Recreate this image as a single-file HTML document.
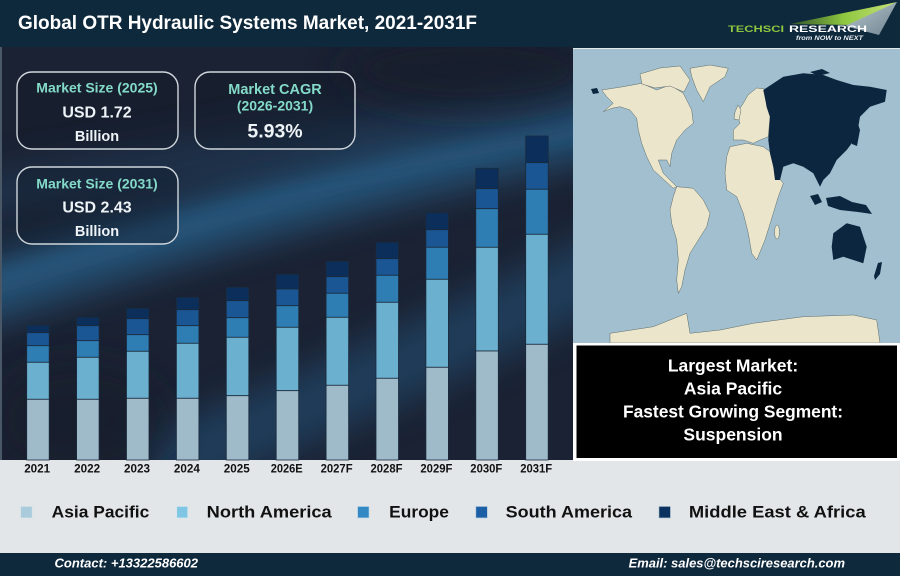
<!DOCTYPE html>
<html><head><meta charset="utf-8"><style>
html,body{margin:0;padding:0;background:#e2e6e8;}
svg{display:block;}
text{font-family:"Liberation Sans",Arial,sans-serif;}
</style></head><body>
<svg width="900" height="576" viewBox="0 0 900 576" xmlns="http://www.w3.org/2000/svg">
<defs>
<filter id="bl" x="-50%" y="-50%" width="200%" height="200%"><feGaussianBlur stdDeviation="18"/></filter>
<filter id="bl2" x="-50%" y="-50%" width="200%" height="200%"><feGaussianBlur stdDeviation="9"/></filter>
<linearGradient id="sw" x1="0" y1="0" x2="1" y2="0">
<stop offset="0" stop-color="#2e4f2a"/><stop offset="0.5" stop-color="#8dc63f"/><stop offset="1" stop-color="#c8e27a"/></linearGradient>
<linearGradient id="sw2" x1="0" y1="0" x2="1" y2="1">
<stop offset="0" stop-color="#b8c7cf"/><stop offset="1" stop-color="#6f8490"/></linearGradient>
<clipPath id="cc"><rect x="0" y="47" width="573" height="413"/></clipPath>
</defs>
<rect x="0" y="0" width="900" height="576" fill="#e2e6e8"/>
<!-- header -->
<rect x="0" y="0" width="900" height="48" fill="#0f293c"/>
<text x="18" y="29" font-size="19" font-weight="bold" fill="#ffffff" textLength="459" lengthAdjust="spacingAndGlyphs">Global OTR Hydraulic Systems Market, 2021-2031F</text>
<!-- logo -->
<polygon points="790,24 897,2 852,25" fill="url(#sw)"/>
<polygon points="845,26 897,2 879,35" fill="url(#sw2)"/>
<text x="728" y="32" font-size="9.5" font-weight="bold" fill="#8dc63f" textLength="56" lengthAdjust="spacingAndGlyphs">TECHSCI</text>
<text x="789" y="32" font-size="9.5" font-weight="bold" fill="#ffffff" textLength="78" lengthAdjust="spacingAndGlyphs">RESEARCH</text>
<text x="796" y="40" font-size="6.5" font-style="italic" font-weight="bold" fill="#e8eef2" textLength="67" lengthAdjust="spacingAndGlyphs">from NOW to NEXT</text>

<!-- chart background -->
<g clip-path="url(#cc)">
<rect x="0" y="47" width="573" height="413" fill="#1b2233"/>
<path d="M-40,300 C120,250 300,190 620,120" stroke="#28587f" stroke-width="60" fill="none" opacity="0.85" filter="url(#bl)"/>
<path d="M-40,290 C120,245 300,185 620,118" stroke="#2e6690" stroke-width="14" fill="none" opacity="0.45" filter="url(#bl2)"/>
<path d="M-40,200 C150,170 330,140 620,90" stroke="#203f5e" stroke-width="40" fill="none" opacity="0.6" filter="url(#bl)"/>
<path d="M150,470 C280,420 420,360 620,260" stroke="#234c6e" stroke-width="70" fill="none" opacity="0.65" filter="url(#bl)"/>
<ellipse cx="470" cy="70" rx="130" ry="40" fill="#161c2a" opacity="0.7" filter="url(#bl)"/>
<ellipse cx="80" cy="420" rx="90" ry="60" fill="#161c2a" opacity="0.6" filter="url(#bl)"/>
<rect x="0" y="47" width="2" height="413" fill="#4a5766"/>
</g>

<!-- KPI boxes -->
<g stroke="#cfd6dc" stroke-width="1.4" fill="#101a29" fill-opacity="0.35">
<rect x="17" y="72" width="161" height="77" rx="15"/>
<rect x="195" y="72" width="160" height="77" rx="15"/>
<rect x="17" y="167" width="161" height="77" rx="15"/>
</g>
<g font-weight="bold" text-anchor="middle">
<text x="97" y="92.5" font-size="14" fill="#84dac9">Market Size (2025)</text>
<text x="97" y="117.5" font-size="16" fill="#eef3f7">USD 1.72</text>
<text x="97" y="141" font-size="14.5" fill="#eef3f7">Billion</text>
<text x="275" y="94" font-size="14.5" fill="#84dac9">Market CAGR</text>
<text x="275" y="110.5" font-size="14" fill="#84dac9">(2026-2031)</text>
<text x="275" y="137.5" font-size="19.5" fill="#eef3f7">5.93%</text>
<text x="97" y="188.5" font-size="14" fill="#84dac9">Market Size (2031)</text>
<text x="97" y="212.5" font-size="16" fill="#eef3f7">USD 2.43</text>
<text x="97" y="236" font-size="14.5" fill="#eef3f7">Billion</text>
</g>

<!-- bars -->
<g stroke="#1a2b3d" stroke-width="0.8">
<g transform="translate(26.7,0)">
<rect y="325.3" width="22.5" height="7.4" fill="#0b2e5b"/><rect y="332.7" width="22.5" height="13" fill="#1b5694"/><rect y="345.7" width="22.5" height="16.6" fill="#2e7db3"/><rect y="362.3" width="22.5" height="37" fill="#6cb0cf"/><rect y="399.3" width="22.5" height="60.7" fill="#9fbac8"/></g>
<g transform="translate(76.6,0)">
<rect y="317.3" width="22.5" height="8.4" fill="#0b2e5b"/><rect y="325.7" width="22.5" height="15" fill="#1b5694"/><rect y="340.7" width="22.5" height="16.6" fill="#2e7db3"/><rect y="357.3" width="22.5" height="42" fill="#6cb0cf"/><rect y="399.3" width="22.5" height="60.7" fill="#9fbac8"/></g>
<g transform="translate(126.5,0)">
<rect y="308.3" width="22.5" height="10.4" fill="#0b2e5b"/><rect y="318.7" width="22.5" height="16" fill="#1b5694"/><rect y="334.7" width="22.5" height="16.6" fill="#2e7db3"/><rect y="351.3" width="22.5" height="47" fill="#6cb0cf"/><rect y="398.3" width="22.5" height="61.7" fill="#9fbac8"/></g>
<g transform="translate(176.4,0)">
<rect y="297.3" width="22.5" height="12.4" fill="#0b2e5b"/><rect y="309.7" width="22.5" height="16" fill="#1b5694"/><rect y="325.7" width="22.5" height="17.6" fill="#2e7db3"/><rect y="343.3" width="22.5" height="55" fill="#6cb0cf"/><rect y="398.3" width="22.5" height="61.7" fill="#9fbac8"/></g>
<g transform="translate(226.3,0)">
<rect y="287.3" width="22.5" height="13.4" fill="#0b2e5b"/><rect y="300.7" width="22.5" height="17" fill="#1b5694"/><rect y="317.7" width="22.5" height="19.6" fill="#2e7db3"/><rect y="337.3" width="22.5" height="58.4" fill="#6cb0cf"/><rect y="395.7" width="22.5" height="64.3" fill="#9fbac8"/></g>
<g transform="translate(276.2,0)">
<rect y="274.3" width="22.5" height="14.7" fill="#0b2e5b"/><rect y="289" width="22.5" height="16.7" fill="#1b5694"/><rect y="305.7" width="22.5" height="21.6" fill="#2e7db3"/><rect y="327.3" width="22.5" height="63.4" fill="#6cb0cf"/><rect y="390.7" width="22.5" height="69.3" fill="#9fbac8"/></g>
<g transform="translate(326.1,0)">
<rect y="261.3" width="22.5" height="15.4" fill="#0b2e5b"/><rect y="276.7" width="22.5" height="16.6" fill="#1b5694"/><rect y="293.3" width="22.5" height="24" fill="#2e7db3"/><rect y="317.3" width="22.5" height="68" fill="#6cb0cf"/><rect y="385.3" width="22.5" height="74.7" fill="#9fbac8"/></g>
<g transform="translate(376,0)">
<rect y="242.3" width="22.5" height="16.4" fill="#0b2e5b"/><rect y="258.7" width="22.5" height="16.6" fill="#1b5694"/><rect y="275.3" width="22.5" height="27" fill="#2e7db3"/><rect y="302.3" width="22.5" height="76" fill="#6cb0cf"/><rect y="378.3" width="22.5" height="81.7" fill="#9fbac8"/></g>
<g transform="translate(425.9,0)">
<rect y="212.7" width="22.5" height="17" fill="#0b2e5b"/><rect y="229.7" width="22.5" height="17.6" fill="#1b5694"/><rect y="247.3" width="22.5" height="32" fill="#2e7db3"/><rect y="279.3" width="22.5" height="88" fill="#6cb0cf"/><rect y="367.3" width="22.5" height="92.7" fill="#9fbac8"/></g>
<g transform="translate(475.8,0)">
<rect y="168.3" width="22.5" height="20.4" fill="#0b2e5b"/><rect y="188.7" width="22.5" height="20" fill="#1b5694"/><rect y="208.7" width="22.5" height="38.6" fill="#2e7db3"/><rect y="247.3" width="22.5" height="103.7" fill="#6cb0cf"/><rect y="351" width="22.5" height="109" fill="#9fbac8"/></g>
<g transform="translate(525.7,0)">
<rect y="136" width="22.5" height="26.7" fill="#0b2e5b"/><rect y="162.7" width="22.5" height="26.6" fill="#1b5694"/><rect y="189.3" width="22.5" height="45" fill="#2e7db3"/><rect y="234.3" width="22.5" height="110" fill="#6cb0cf"/><rect y="344.3" width="22.5" height="115.7" fill="#9fbac8"/></g>
</g>

<!-- x labels -->
<g font-size="12" font-weight="bold" fill="#111" text-anchor="middle">
<text x="37.2" y="472.5" textLength="26" lengthAdjust="spacingAndGlyphs">2021</text>
<text x="87.1" y="472.5" textLength="26" lengthAdjust="spacingAndGlyphs">2022</text>
<text x="137" y="472.5" textLength="26" lengthAdjust="spacingAndGlyphs">2023</text>
<text x="186.9" y="472.5" textLength="26" lengthAdjust="spacingAndGlyphs">2024</text>
<text x="236.8" y="472.5" textLength="26" lengthAdjust="spacingAndGlyphs">2025</text>
<text x="286.7" y="472.5" textLength="32" lengthAdjust="spacingAndGlyphs">2026E</text>
<text x="336.6" y="472.5" textLength="32" lengthAdjust="spacingAndGlyphs">2027F</text>
<text x="386.5" y="472.5" textLength="32" lengthAdjust="spacingAndGlyphs">2028F</text>
<text x="436.4" y="472.5" textLength="32" lengthAdjust="spacingAndGlyphs">2029F</text>
<text x="486.3" y="472.5" textLength="32" lengthAdjust="spacingAndGlyphs">2030F</text>
<text x="536.2" y="472.5" textLength="32" lengthAdjust="spacingAndGlyphs">2031F</text>
</g>

<!-- map panel -->
<rect x="573" y="49" width="327" height="294" fill="#a1bfce"/>
<g fill="#ebe5cb" stroke="#5d6b6a" stroke-width="0.5">
<polygon points="601.7,90 623.3,86.7 641.7,83.3 656.7,90 670,85 683.3,93.3 691.7,110 693.3,123.3 685,130 676.7,140 671.7,153.3 670,166.7 666.7,160 658.3,160 663.3,173.3 676.7,186.7 673.3,188.3 653.3,170 646.7,156.7 641.7,143.3 638.3,130 636.7,118.3 630,110 620,106.7 611.7,108.3 603.3,111.7 613.3,103.3 606.7,96.7"/>
<polygon points="640,74 660,68 680,66 690,80 684,92 670,86 655,88 642,84"/>
<polygon points="690,68.3 710,65 728.3,68.3 725,76.7 710,86.7 703.3,101.7 696.7,90 691.7,76.7"/>
<polygon points="676.7,186.7 693.3,188.3 703.3,200 710,213.3 706.7,226.7 698.3,240 690,253.3 685,270 681.7,286.7 678.3,293.3 676.7,280 678.3,260 676.7,240 671.7,223.3 670,210 673.3,196.7"/>
<polygon points="733.3,140 733.3,130 740,123.3 736.7,113.3 743.3,103.3 748,95 756.7,88 765,89 766.7,106.7 770,116.7 768.3,136.7 760,140 753.3,143.3 743.3,140"/>
<polygon points="735,112 738,105 741,110 739,120 734,119"/>
<polygon points="730,146.7 746.7,143.3 763.3,146.7 770,151.7 775,173.3 783.3,183.3 778.3,196.7 773.3,213.3 765,240 756.7,260 751.7,253.3 748.3,233.3 743.3,213.3 736.7,196.7 726.7,190 725,173.3 726.7,156.7"/>
<ellipse cx="777" cy="232" rx="2.5" ry="7"/>
<polygon points="610,333.3 653.3,326.7 686.7,313.3 690,333.3 720,330 753.3,323.3 803.3,316.7 853.3,315 876.7,320 880,343 610,343"/>
</g>
<g fill="#0c2640">
<polygon points="763.3,90 783.3,76.7 803.3,73.3 823.3,75 836.7,80 853.3,85 870,86.7 886.7,90 885,101.7 870,106.7 860,116.7 856.7,136.7 846.7,150 836.7,160 830,173.3 823.3,180 820,186.7 813.3,173.3 803.3,166.7 793.3,163.3 783.3,166.7 780,180 775,180 773.3,166.7 770,153.3 768.3,140 770,116.7 766.7,106.7"/>
<polygon points="810,72 822,69 830,73 818,76"/>
<polygon points="850,122 856,118 860,130 857,146 852,144"/>
<polygon points="826,198 840,196 852,202 866,205 872,214 858,212 840,210 828,206"/>
<polygon points="810,196 818,194 822,202 815,205"/>
<polygon points="833.3,233.3 846.7,223.3 860,226.7 866.7,246.7 863.3,263.3 853.3,260 843.3,256.7 833.3,260 831.7,246.7"/>
<polygon points="878,263 882,262 880,274 875,280 874,276"/>
<polygon points="591,89 597,88 599,93 593,94"/>
</g>

<!-- highlight box -->
<rect x="573" y="343" width="327" height="118" fill="#ffffff"/>
<rect x="576.5" y="345.5" width="320.5" height="112.5" fill="#000000"/>
<g font-size="17.5" font-weight="bold" fill="#ffffff" text-anchor="middle">
<text x="733" y="371.5">Largest Market:</text>
<text x="733" y="394.5">Asia Pacific</text>
<text x="733" y="417.5" textLength="220" lengthAdjust="spacingAndGlyphs">Fastest Growing Segment:</text>
<text x="733" y="440.5">Suspension</text>
</g>

<!-- legend -->
<rect x="20.7" y="506.5" width="11.4" height="11.4" fill="#a9cbdb" stroke="#d2e3ec" stroke-width="0.6"/>
<rect x="176.8" y="506.5" width="10.8" height="11.4" fill="#7ec6e3" stroke="#cde7f1" stroke-width="0.6"/>
<rect x="357.6" y="506.5" width="11.4" height="11.4" fill="#3389c4" stroke="#b7d6ea" stroke-width="0.6"/>
<rect x="475.9" y="506.5" width="11.4" height="11.4" fill="#1c5fa4" stroke="#a8c4dc" stroke-width="0.6"/>
<rect x="659" y="506.5" width="11.4" height="11.4" fill="#0c3360" stroke="#9eb3c7" stroke-width="0.6"/>
<g font-size="17" font-weight="bold" fill="#111">
<text x="51.7" y="517.5" textLength="97.6" lengthAdjust="spacingAndGlyphs">Asia Pacific</text>
<text x="206.7" y="517.5" textLength="125" lengthAdjust="spacingAndGlyphs">North America</text>
<text x="389.2" y="517.5" textLength="59.7" lengthAdjust="spacingAndGlyphs">Europe</text>
<text x="505.7" y="517.5" textLength="126.3" lengthAdjust="spacingAndGlyphs">South America</text>
<text x="688.9" y="517.5" textLength="176.8" lengthAdjust="spacingAndGlyphs">Middle East &amp; Africa</text>
</g>

<!-- footer -->
<rect x="0" y="553" width="900" height="23" fill="#0f293c"/>
<g font-size="12.5" font-weight="bold" font-style="italic" fill="#ffffff">
<text x="54.5" y="567.3" textLength="143.5" lengthAdjust="spacingAndGlyphs">Contact: +13322586602</text>
<text x="628.6" y="567.5" textLength="216.4" lengthAdjust="spacingAndGlyphs">Email: sales@techsciresearch.com</text>
</g>
</svg>
</body></html>
